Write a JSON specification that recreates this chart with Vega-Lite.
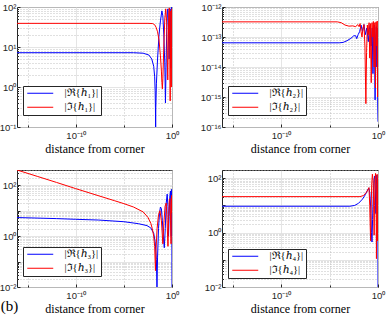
{
"$schema":"https://vega.github.io/schema/vega-lite/v6.json",
"padding":{"left":-2,"top":1,"right":0,"bottom":0},
"columns":2,
"spacing":{"row":43,"column":49},
"bounds":"flush",
"align":"all",
"title":{"text":"(b)","orient":"bottom","anchor":"start","font":"Liberation Serif, DejaVu Serif, serif","fontSize":15,"fontWeight":"normal","color":"#000000","offset":-16,"dx":2},
"datasets":{"d":[
{"p":1,"s":"|ℜ{ℎ₁}|","x":7.94e-17,"y":7.2},{"p":1,"s":"|ℜ{ℎ₁}|","x":1e-4,"y":7.2},{"p":1,"s":"|ℜ{ℎ₁}|","x":1e-3,"y":7.0},{"p":1,"s":"|ℜ{ℎ₁}|","x":3.98e-3,"y":6.3},{"p":1,"s":"|ℜ{ℎ₁}|","x":7.94e-3,"y":5.0},{"p":1,"s":"|ℜ{ℎ₁}|","x":0.0126,"y":3.3},{"p":1,"s":"|ℜ{ℎ₁}|","x":0.0158,"y":1.8},{"p":1,"s":"|ℜ{ℎ₁}|","x":0.0178,"y":0.8},{"p":1,"s":"|ℜ{ℎ₁}|","x":0.0191,"y":0.3},{"p":1,"s":"|ℜ{ℎ₁}|","x":0.02,"y":0.1},{"p":1,"s":"|ℜ{ℎ₁}|","x":0.0209,"y":0.3},{"p":1,"s":"|ℜ{ℎ₁}|","x":0.024,"y":1.2},{"p":1,"s":"|ℜ{ℎ₁}|","x":0.0316,"y":5},{"p":1,"s":"|ℜ{ℎ₁}|","x":0.0447,"y":20},{"p":1,"s":"|ℜ{ℎ₁}|","x":0.0631,"y":45},{"p":1,"s":"|ℜ{ℎ₁}|","x":0.0891,"y":80},{"p":1,"s":"|ℜ{ℎ₁}|","x":0.112,"y":60},{"p":1,"s":"|ℜ{ℎ₁}|","x":0.141,"y":20},{"p":1,"s":"|ℜ{ℎ₁}|","x":0.178,"y":4},{"p":1,"s":"|ℜ{ℎ₁}|","x":0.209,"y":0.4},{"p":1,"s":"|ℜ{ℎ₁}|","x":0.24,"y":3},{"p":1,"s":"|ℜ{ℎ₁}|","x":0.282,"y":25},{"p":1,"s":"|ℜ{ℎ₁}|","x":0.331,"y":80},{"p":1,"s":"|ℜ{ℎ₁}|","x":0.38,"y":90},{"p":1,"s":"|ℜ{ℎ₁}|","x":0.437,"y":30},{"p":1,"s":"|ℜ{ℎ₁}|","x":0.501,"y":5},{"p":1,"s":"|ℜ{ℎ₁}|","x":0.55,"y":20},{"p":1,"s":"|ℜ{ℎ₁}|","x":0.631,"y":90},{"p":1,"s":"|ℜ{ℎ₁}|","x":0.708,"y":40},{"p":1,"s":"|ℜ{ℎ₁}|","x":0.759,"y":3},{"p":1,"s":"|ℜ{ℎ₁}|","x":0.813,"y":30},{"p":1,"s":"|ℜ{ℎ₁}|","x":0.871,"y":95},{"p":1,"s":"|ℜ{ℎ₁}|","x":0.912,"y":60},{"p":1,"s":"|ℜ{ℎ₁}|","x":0.955,"y":100},{"p":1,"s":"|ℜ{ℎ₁}|","x":1,"y":70},
{"p":1,"s":"|ℑ{ℎ₁}|","x":7.94e-17,"y":39},{"p":1,"s":"|ℑ{ℎ₁}|","x":3.16e-3,"y":39},{"p":1,"s":"|ℑ{ℎ₁}|","x":0.01,"y":38.5},{"p":1,"s":"|ℑ{ℎ₁}|","x":0.0158,"y":36},{"p":1,"s":"|ℑ{ℎ₁}|","x":0.0224,"y":31},{"p":1,"s":"|ℑ{ℎ₁}|","x":0.0316,"y":24},{"p":1,"s":"|ℑ{ℎ₁}|","x":0.0447,"y":15},{"p":1,"s":"|ℑ{ℎ₁}|","x":0.0631,"y":6},{"p":1,"s":"|ℑ{ℎ₁}|","x":0.0794,"y":2.5},{"p":1,"s":"|ℑ{ℎ₁}|","x":0.0891,"y":1.3},{"p":1,"s":"|ℑ{ℎ₁}|","x":0.1,"y":0.9},{"p":1,"s":"|ℑ{ℎ₁}|","x":0.112,"y":1.6},{"p":1,"s":"|ℑ{ℎ₁}|","x":0.141,"y":10},{"p":1,"s":"|ℑ{ℎ₁}|","x":0.178,"y":50},{"p":1,"s":"|ℑ{ℎ₁}|","x":0.224,"y":90},{"p":1,"s":"|ℑ{ℎ₁}|","x":0.282,"y":40},{"p":1,"s":"|ℑ{ℎ₁}|","x":0.331,"y":4},{"p":1,"s":"|ℑ{ℎ₁}|","x":0.363,"y":1.5},{"p":1,"s":"|ℑ{ℎ₁}|","x":0.398,"y":8},{"p":1,"s":"|ℑ{ℎ₁}|","x":0.468,"y":70},{"p":1,"s":"|ℑ{ℎ₁}|","x":0.525,"y":95},{"p":1,"s":"|ℑ{ℎ₁}|","x":0.575,"y":20},{"p":1,"s":"|ℑ{ℎ₁}|","x":0.617,"y":2},{"p":1,"s":"|ℑ{ℎ₁}|","x":0.646,"y":0.45},{"p":1,"s":"|ℑ{ℎ₁}|","x":0.692,"y":5},{"p":1,"s":"|ℑ{ℎ₁}|","x":0.759,"y":80},{"p":1,"s":"|ℑ{ℎ₁}|","x":0.813,"y":30},{"p":1,"s":"|ℑ{ℎ₁}|","x":0.851,"y":1},{"p":1,"s":"|ℑ{ℎ₁}|","x":0.891,"y":40},{"p":1,"s":"|ℑ{ℎ₁}|","x":0.933,"y":90},{"p":1,"s":"|ℑ{ℎ₁}|","x":0.966,"y":5},{"p":1,"s":"|ℑ{ℎ₁}|","x":1,"y":50},
{"p":2,"s":"|ℜ{ℎ₂}|","x":7.94e-17,"y":6.4e-14},{"p":2,"s":"|ℜ{ℎ₂}|","x":1e-4,"y":6.4e-14},{"p":2,"s":"|ℜ{ℎ₂}|","x":2.51e-4,"y":6.6e-14},{"p":2,"s":"|ℜ{ℎ₂}|","x":6.31e-4,"y":7.5e-14},{"p":2,"s":"|ℜ{ℎ₂}|","x":1.58e-3,"y":9e-14},{"p":2,"s":"|ℜ{ℎ₂}|","x":3.16e-3,"y":1.1e-13},{"p":2,"s":"|ℜ{ℎ₂}|","x":5.01e-3,"y":1.1e-13},{"p":2,"s":"|ℜ{ℎ₂}|","x":6.31e-3,"y":8.8e-14},{"p":2,"s":"|ℜ{ℎ₂}|","x":8.91e-3,"y":1.2e-13},{"p":2,"s":"|ℜ{ℎ₂}|","x":0.0126,"y":1.5e-13},{"p":2,"s":"|ℜ{ℎ₂}|","x":0.0178,"y":2.5e-13},{"p":2,"s":"|ℜ{ℎ₂}|","x":0.0251,"y":1.5e-13},{"p":2,"s":"|ℜ{ℎ₂}|","x":0.0355,"y":2.6e-13},{"p":2,"s":"|ℜ{ℎ₂}|","x":0.0501,"y":1.2e-13},{"p":2,"s":"|ℜ{ℎ₂}|","x":0.0708,"y":2e-13},{"p":2,"s":"|ℜ{ℎ₂}|","x":0.1,"y":7e-14},{"p":2,"s":"|ℜ{ℎ₂}|","x":0.126,"y":1.8e-13},{"p":2,"s":"|ℜ{ℎ₂}|","x":0.158,"y":2.5e-13},{"p":2,"s":"|ℜ{ℎ₂}|","x":0.2,"y":5e-14},{"p":2,"s":"|ℜ{ℎ₂}|","x":0.251,"y":2e-13},{"p":2,"s":"|ℜ{ℎ₂}|","x":0.302,"y":6e-15},{"p":2,"s":"|ℜ{ℎ₂}|","x":0.355,"y":1.5e-13},{"p":2,"s":"|ℜ{ℎ₂}|","x":0.417,"y":2.5e-13},{"p":2,"s":"|ℜ{ℎ₂}|","x":0.501,"y":8e-16},{"p":2,"s":"|ℜ{ℎ₂}|","x":0.575,"y":1e-13},{"p":2,"s":"|ℜ{ℎ₂}|","x":0.661,"y":2.2e-13},{"p":2,"s":"|ℜ{ℎ₂}|","x":0.759,"y":1e-14},{"p":2,"s":"|ℜ{ℎ₂}|","x":0.851,"y":2e-13},{"p":2,"s":"|ℜ{ℎ₂}|","x":0.933,"y":5e-16},{"p":2,"s":"|ℜ{ℎ₂}|","x":1,"y":1.5e-16},
{"p":2,"s":"|ℑ{ℎ₂}|","x":7.94e-17,"y":3.2e-13},{"p":2,"s":"|ℑ{ℎ₂}|","x":6.31e-5,"y":3.2e-13},{"p":2,"s":"|ℑ{ℎ₂}|","x":1.58e-4,"y":3.0e-13},{"p":2,"s":"|ℑ{ℎ₂}|","x":3.98e-4,"y":2.5e-13},{"p":2,"s":"|ℑ{ℎ₂}|","x":1e-3,"y":2.3e-13},{"p":2,"s":"|ℑ{ℎ₂}|","x":2.51e-3,"y":2.35e-13},{"p":2,"s":"|ℑ{ℎ₂}|","x":5.01e-3,"y":2.2e-13},{"p":2,"s":"|ℑ{ℎ₂}|","x":7.94e-3,"y":2.6e-13},{"p":2,"s":"|ℑ{ℎ₂}|","x":0.0112,"y":2.2e-13},{"p":2,"s":"|ℑ{ℎ₂}|","x":0.0141,"y":2.8e-13},{"p":2,"s":"|ℑ{ℎ₂}|","x":0.0178,"y":1.5e-13},{"p":2,"s":"|ℑ{ℎ₂}|","x":0.0224,"y":1.0e-13},{"p":2,"s":"|ℑ{ℎ₂}|","x":0.0282,"y":2.0e-13},{"p":2,"s":"|ℑ{ℎ₂}|","x":0.0355,"y":2.6e-13},{"p":2,"s":"|ℑ{ℎ₂}|","x":0.0447,"y":5e-14},{"p":2,"s":"|ℑ{ℎ₂}|","x":0.0562,"y":6e-16},{"p":2,"s":"|ℑ{ℎ₂}|","x":0.0661,"y":3e-14},{"p":2,"s":"|ℑ{ℎ₂}|","x":0.0794,"y":2.5e-13},{"p":2,"s":"|ℑ{ℎ₂}|","x":0.1,"y":1.2e-13},{"p":2,"s":"|ℑ{ℎ₂}|","x":0.12,"y":3e-13},{"p":2,"s":"|ℑ{ℎ₂}|","x":0.141,"y":2e-14},{"p":2,"s":"|ℑ{ℎ₂}|","x":0.166,"y":2.8e-13},{"p":2,"s":"|ℑ{ℎ₂}|","x":0.2,"y":3e-15},{"p":2,"s":"|ℑ{ℎ₂}|","x":0.24,"y":3e-13},{"p":2,"s":"|ℑ{ℎ₂}|","x":0.282,"y":1e-13},{"p":2,"s":"|ℑ{ℎ₂}|","x":0.331,"y":3.3e-13},{"p":2,"s":"|ℑ{ℎ₂}|","x":0.398,"y":1e-14},{"p":2,"s":"|ℑ{ℎ₂}|","x":0.468,"y":3e-13},{"p":2,"s":"|ℑ{ℎ₂}|","x":0.55,"y":2e-15},{"p":2,"s":"|ℑ{ℎ₂}|","x":0.631,"y":3.2e-13},{"p":2,"s":"|ℑ{ℎ₂}|","x":0.724,"y":5e-14},{"p":2,"s":"|ℑ{ℎ₂}|","x":0.832,"y":3.4e-13},{"p":2,"s":"|ℑ{ℎ₂}|","x":0.912,"y":1e-15},{"p":2,"s":"|ℑ{ℎ₂}|","x":1,"y":2e-13},
{"p":3,"s":"|ℜ{ℎ₃}|","x":7.94e-17,"y":5.4},{"p":3,"s":"|ℜ{ℎ₃}|","x":1e-12,"y":4.9},{"p":3,"s":"|ℜ{ℎ₃}|","x":1e-10,"y":4.6},{"p":3,"s":"|ℜ{ℎ₃}|","x":2.51e-8,"y":4.3},{"p":3,"s":"|ℜ{ℎ₃}|","x":1e-5,"y":3.7},{"p":3,"s":"|ℜ{ℎ₃}|","x":3.16e-4,"y":3.1},{"p":3,"s":"|ℜ{ℎ₃}|","x":2.51e-3,"y":2.6},{"p":3,"s":"|ℜ{ℎ₃}|","x":6.31e-3,"y":2.1},{"p":3,"s":"|ℜ{ℎ₃}|","x":0.0126,"y":1.3},{"p":3,"s":"|ℜ{ℎ₃}|","x":0.0178,"y":0.6},{"p":3,"s":"|ℜ{ℎ₃}|","x":0.024,"y":0.12},{"p":3,"s":"|ℜ{ℎ₃}|","x":0.0275,"y":0.01},{"p":3,"s":"|ℜ{ℎ₃}|","x":0.0316,"y":0.15},{"p":3,"s":"|ℜ{ℎ₃}|","x":0.0398,"y":2},{"p":3,"s":"|ℜ{ℎ₃}|","x":0.0501,"y":8},{"p":3,"s":"|ℜ{ℎ₃}|","x":0.0631,"y":14},{"p":3,"s":"|ℜ{ℎ₃}|","x":0.0794,"y":12},{"p":3,"s":"|ℜ{ℎ₃}|","x":0.1,"y":4},{"p":3,"s":"|ℜ{ℎ₃}|","x":0.126,"y":1},{"p":3,"s":"|ℜ{ℎ₃}|","x":0.158,"y":0.35},{"p":3,"s":"|ℜ{ℎ₃}|","x":0.2,"y":2},{"p":3,"s":"|ℜ{ℎ₃}|","x":0.251,"y":20},{"p":3,"s":"|ℜ{ℎ₃}|","x":0.316,"y":45},{"p":3,"s":"|ℜ{ℎ₃}|","x":0.38,"y":15},{"p":3,"s":"|ℜ{ℎ₃}|","x":0.437,"y":1},{"p":3,"s":"|ℜ{ℎ₃}|","x":0.501,"y":6},{"p":3,"s":"|ℜ{ℎ₃}|","x":0.603,"y":40},{"p":3,"s":"|ℜ{ℎ₃}|","x":0.692,"y":60},{"p":3,"s":"|ℜ{ℎ₃}|","x":0.759,"y":10},{"p":3,"s":"|ℜ{ℎ₃}|","x":0.832,"y":1},{"p":3,"s":"|ℜ{ℎ₃}|","x":0.891,"y":30},{"p":3,"s":"|ℜ{ℎ₃}|","x":0.933,"y":70},{"p":3,"s":"|ℜ{ℎ₃}|","x":0.977,"y":0.3},{"p":3,"s":"|ℜ{ℎ₃}|","x":1,"y":0.01},
{"p":3,"s":"|ℑ{ℎ₃}|","x":7.94e-17,"y":400},{"p":3,"s":"|ℑ{ℎ₃}|","x":1e-14,"y":225},{"p":3,"s":"|ℑ{ℎ₃}|","x":1e-12,"y":130},{"p":3,"s":"|ℑ{ℎ₃}|","x":1e-10,"y":74},{"p":3,"s":"|ℑ{ℎ₃}|","x":1e-8,"y":43},{"p":3,"s":"|ℑ{ℎ₃}|","x":1e-6,"y":25},{"p":3,"s":"|ℑ{ℎ₃}|","x":1e-5,"y":19},{"p":3,"s":"|ℑ{ℎ₃}|","x":1e-4,"y":14},{"p":3,"s":"|ℑ{ℎ₃}|","x":1e-3,"y":9},{"p":3,"s":"|ℑ{ℎ₃}|","x":3.16e-3,"y":5.5},{"p":3,"s":"|ℑ{ℎ₃}|","x":6.31e-3,"y":3.2},{"p":3,"s":"|ℑ{ℎ₃}|","x":8.91e-3,"y":2},{"p":3,"s":"|ℑ{ℎ₃}|","x":0.0126,"y":1.0},{"p":3,"s":"|ℑ{ℎ₃}|","x":0.0158,"y":0.4},{"p":3,"s":"|ℑ{ℎ₃}|","x":0.0191,"y":0.044},{"p":3,"s":"|ℑ{ℎ₃}|","x":0.0219,"y":0.3},{"p":3,"s":"|ℑ{ℎ₃}|","x":0.0282,"y":2},{"p":3,"s":"|ℑ{ℎ₃}|","x":0.0398,"y":7},{"p":3,"s":"|ℑ{ℎ₃}|","x":0.0562,"y":10},{"p":3,"s":"|ℑ{ℎ₃}|","x":0.0794,"y":4},{"p":3,"s":"|ℑ{ℎ₃}|","x":0.112,"y":0.5},{"p":3,"s":"|ℑ{ℎ₃}|","x":0.141,"y":3},{"p":3,"s":"|ℑ{ℎ₃}|","x":0.191,"y":15},{"p":3,"s":"|ℑ{ℎ₃}|","x":0.251,"y":20},{"p":3,"s":"|ℑ{ℎ₃}|","x":0.316,"y":3},{"p":3,"s":"|ℑ{ℎ₃}|","x":0.38,"y":0.4},{"p":3,"s":"|ℑ{ℎ₃}|","x":0.447,"y":5},{"p":3,"s":"|ℑ{ℎ₃}|","x":0.525,"y":25},{"p":3,"s":"|ℑ{ℎ₃}|","x":0.631,"y":30},{"p":3,"s":"|ℑ{ℎ₃}|","x":0.708,"y":4},{"p":3,"s":"|ℑ{ℎ₃}|","x":0.794,"y":0.5},{"p":3,"s":"|ℑ{ℎ₃}|","x":0.851,"y":15},{"p":3,"s":"|ℑ{ℎ₃}|","x":0.912,"y":40},{"p":3,"s":"|ℑ{ℎ₃}|","x":0.955,"y":8},{"p":3,"s":"|ℑ{ℎ₃}|","x":1,"y":25},
{"p":4,"s":"|ℜ{ℎ₄}|","x":7.94e-17,"y":9.3},{"p":4,"s":"|ℜ{ℎ₄}|","x":1.26e-3,"y":9.3},{"p":4,"s":"|ℜ{ℎ₄}|","x":3.98e-3,"y":10},{"p":4,"s":"|ℜ{ℎ₄}|","x":0.01,"y":12},{"p":4,"s":"|ℜ{ℎ₄}|","x":0.0251,"y":17},{"p":4,"s":"|ℜ{ℎ₄}|","x":0.0501,"y":25},{"p":4,"s":"|ℜ{ℎ₄}|","x":0.0794,"y":35},{"p":4,"s":"|ℜ{ℎ₄}|","x":0.112,"y":44},{"p":4,"s":"|ℜ{ℎ₄}|","x":0.141,"y":30},{"p":4,"s":"|ℜ{ℎ₄}|","x":0.178,"y":8},{"p":4,"s":"|ℜ{ℎ₄}|","x":0.209,"y":1},{"p":4,"s":"|ℜ{ℎ₄}|","x":0.24,"y":0.45},{"p":4,"s":"|ℜ{ℎ₄}|","x":0.275,"y":3},{"p":4,"s":"|ℜ{ℎ₄}|","x":0.331,"y":30},{"p":4,"s":"|ℜ{ℎ₄}|","x":0.398,"y":90},{"p":4,"s":"|ℜ{ℎ₄}|","x":0.457,"y":120},{"p":4,"s":"|ℜ{ℎ₄}|","x":0.525,"y":40},{"p":4,"s":"|ℜ{ℎ₄}|","x":0.603,"y":5},{"p":4,"s":"|ℜ{ℎ₄}|","x":0.676,"y":60},{"p":4,"s":"|ℜ{ℎ₄}|","x":0.759,"y":130},{"p":4,"s":"|ℜ{ℎ₄}|","x":0.832,"y":20},{"p":4,"s":"|ℜ{ℎ₄}|","x":0.891,"y":1},{"p":4,"s":"|ℜ{ℎ₄}|","x":0.933,"y":60},{"p":4,"s":"|ℜ{ℎ₄}|","x":0.977,"y":0.5},{"p":4,"s":"|ℜ{ℎ₄}|","x":1,"y":0.01},
{"p":4,"s":"|ℑ{ℎ₄}|","x":7.94e-17,"y":21},{"p":4,"s":"|ℑ{ℎ₄}|","x":0.0138,"y":21},{"p":4,"s":"|ℑ{ℎ₄}|","x":0.0316,"y":23},{"p":4,"s":"|ℑ{ℎ₄}|","x":0.0631,"y":30},{"p":4,"s":"|ℑ{ℎ₄}|","x":0.1,"y":40},{"p":4,"s":"|ℑ{ℎ₄}|","x":0.117,"y":45},{"p":4,"s":"|ℑ{ℎ₄}|","x":0.141,"y":10},{"p":4,"s":"|ℑ{ℎ₄}|","x":0.158,"y":1.5},{"p":4,"s":"|ℑ{ℎ₄}|","x":0.174,"y":0.5},{"p":4,"s":"|ℑ{ℎ₄}|","x":0.191,"y":5},{"p":4,"s":"|ℑ{ℎ₄}|","x":0.224,"y":60},{"p":4,"s":"|ℑ{ℎ₄}|","x":0.263,"y":140},{"p":4,"s":"|ℑ{ℎ₄}|","x":0.316,"y":80},{"p":4,"s":"|ℑ{ℎ₄}|","x":0.363,"y":8},{"p":4,"s":"|ℑ{ℎ₄}|","x":0.398,"y":0.8},{"p":4,"s":"|ℑ{ℎ₄}|","x":0.437,"y":10},{"p":4,"s":"|ℑ{ℎ₄}|","x":0.501,"y":100},{"p":4,"s":"|ℑ{ℎ₄}|","x":0.562,"y":150},{"p":4,"s":"|ℑ{ℎ₄}|","x":0.631,"y":30},{"p":4,"s":"|ℑ{ℎ₄}|","x":0.692,"y":0.11},{"p":4,"s":"|ℑ{ℎ₄}|","x":0.759,"y":20},{"p":4,"s":"|ℑ{ℎ₄}|","x":0.813,"y":140},{"p":4,"s":"|ℑ{ℎ₄}|","x":0.871,"y":50},{"p":4,"s":"|ℑ{ℎ₄}|","x":0.912,"y":0.5},{"p":4,"s":"|ℑ{ℎ₄}|","x":0.955,"y":100},{"p":4,"s":"|ℑ{ℎ₄}|","x":1,"y":30}
]},
"concat":[
{"width":155,"height":120,"data":{"name":"d"},"transform":[{"filter":"datum.p == 1"}],
 "mark":{"type":"line","strokeWidth":1,"clip":true},
 "encoding":{
  "x":{"field":"x","type":"quantitative","scale":{"type":"log","domain":[7.94e-17,1],"nice":false},
   "axis":{"values":[1e-15,1e-10,1e-5,1],"title":"distance from corner","labelFlush":false,"labelOverlap":false,"domain":false,"labelPadding":6,
    "labelExpr":"abs(round(log(datum.value)/LN10)) % 10 == 0 ? ('10' + (round(log(datum.value)/LN10) < 0 ? '⁻' : '') + (abs(round(log(datum.value)/LN10)) >= 10 ? ['⁰','¹','²','³','⁴','⁵','⁶','⁷','⁸','⁹'][floor(abs(round(log(datum.value)/LN10))/10)] : '') + ['⁰','¹','²','³','⁴','⁵','⁶','⁷','⁸','⁹'][abs(round(log(datum.value)/LN10)) % 10]) : ''",
    "gridDash":{"condition":{"test":"abs(round(log(datum.value)/LN10)) % 10 == 0","value":[]},"value":[1,2]},
    "gridColor":{"condition":{"test":"abs(round(log(datum.value)/LN10)) % 10 == 0","value":"#dedede"},"value":"#b0b0b0"},
    "tickSize":{"condition":{"test":"abs(round(log(datum.value)/LN10)) % 10 == 0","value":-3},"value":-2}}},
  "y":{"field":"y","type":"quantitative","scale":{"type":"log","domain":[0.1,100],"nice":false},
   "axis":{"tickCount":30,"title":null,"labelFlush":false,"labelOverlap":false,"domain":false,"labelPadding":4,
    "labelExpr":"abs(log(datum.value)/LN10 - round(log(datum.value)/LN10)) < 0.001 ? ('10' + (round(log(datum.value)/LN10) < 0 ? '⁻' : '') + (abs(round(log(datum.value)/LN10)) >= 10 ? ['⁰','¹','²','³','⁴','⁵','⁶','⁷','⁸','⁹'][floor(abs(round(log(datum.value)/LN10))/10)] : '') + ['⁰','¹','²','³','⁴','⁵','⁶','⁷','⁸','⁹'][abs(round(log(datum.value)/LN10)) % 10]) : ''",
    "gridDash":{"condition":{"test":"abs(log(datum.value)/LN10 - round(log(datum.value)/LN10)) < 0.001","value":[]},"value":[1,2]},
    "gridColor":{"condition":{"test":"abs(log(datum.value)/LN10 - round(log(datum.value)/LN10)) < 0.001","value":"#dedede"},"value":"#b0b0b0"},
    "tickSize":{"condition":{"test":"abs(log(datum.value)/LN10 - round(log(datum.value)/LN10)) < 0.001","value":-3},"value":-1.5}}},
  "stroke":{"field":"s","type":"nominal","scale":{"domain":["|ℜ{ℎ₁}|","|ℑ{ℎ₁}|"],"range":["#0000ff","#ff0000"]},"legend":{"title":null,"orient":"none","legendX":6,"legendY":79}}
 }},
{"width":156,"height":120,"data":{"name":"d"},"transform":[{"filter":"datum.p == 2"}],
 "mark":{"type":"line","strokeWidth":1,"clip":true},
 "encoding":{
  "x":{"field":"x","type":"quantitative","scale":{"type":"log","domain":[7.94e-17,1],"nice":false},
   "axis":{"values":[1e-15,1e-10,1e-5,1],"title":"distance from corner","labelFlush":false,"labelOverlap":false,"domain":false,"labelPadding":6,
    "labelExpr":"abs(round(log(datum.value)/LN10)) % 10 == 0 ? ('10' + (round(log(datum.value)/LN10) < 0 ? '⁻' : '') + (abs(round(log(datum.value)/LN10)) >= 10 ? ['⁰','¹','²','³','⁴','⁵','⁶','⁷','⁸','⁹'][floor(abs(round(log(datum.value)/LN10))/10)] : '') + ['⁰','¹','²','³','⁴','⁵','⁶','⁷','⁸','⁹'][abs(round(log(datum.value)/LN10)) % 10]) : ''",
    "gridDash":{"condition":{"test":"abs(round(log(datum.value)/LN10)) % 10 == 0","value":[]},"value":[1,2]},
    "gridColor":{"condition":{"test":"abs(round(log(datum.value)/LN10)) % 10 == 0","value":"#dedede"},"value":"#b0b0b0"},
    "tickSize":{"condition":{"test":"abs(round(log(datum.value)/LN10)) % 10 == 0","value":-3},"value":-2}}},
  "y":{"field":"y","type":"quantitative","scale":{"type":"log","domain":[1e-16,1e-12],"nice":false},
   "axis":{"tickCount":30,"title":null,"labelFlush":false,"labelOverlap":false,"domain":false,"labelPadding":4,
    "labelExpr":"abs(log(datum.value)/LN10 - round(log(datum.value)/LN10)) < 0.001 ? ('10' + (round(log(datum.value)/LN10) < 0 ? '⁻' : '') + (abs(round(log(datum.value)/LN10)) >= 10 ? ['⁰','¹','²','³','⁴','⁵','⁶','⁷','⁸','⁹'][floor(abs(round(log(datum.value)/LN10))/10)] : '') + ['⁰','¹','²','³','⁴','⁵','⁶','⁷','⁸','⁹'][abs(round(log(datum.value)/LN10)) % 10]) : ''",
    "gridDash":{"condition":{"test":"abs(log(datum.value)/LN10 - round(log(datum.value)/LN10)) < 0.001","value":[]},"value":[1,2]},
    "gridColor":{"condition":{"test":"abs(log(datum.value)/LN10 - round(log(datum.value)/LN10)) < 0.001","value":"#dedede"},"value":"#b0b0b0"},
    "tickSize":{"condition":{"test":"abs(log(datum.value)/LN10 - round(log(datum.value)/LN10)) < 0.001","value":-3},"value":-1.5}}},
  "stroke":{"field":"s","type":"nominal","scale":{"domain":["|ℜ{ℎ₂}|","|ℑ{ℎ₂}|"],"range":["#0000ff","#ff0000"]},"legend":{"title":null,"orient":"none","legendX":6,"legendY":79}}
 }},
{"width":155,"height":117,"data":{"name":"d"},"transform":[{"filter":"datum.p == 3"}],
 "mark":{"type":"line","strokeWidth":1,"clip":true},
 "encoding":{
  "x":{"field":"x","type":"quantitative","scale":{"type":"log","domain":[7.94e-17,1],"nice":false},
   "axis":{"values":[1e-15,1e-10,1e-5,1],"title":"distance from corner","labelFlush":false,"labelOverlap":false,"domain":false,"labelPadding":6,
    "labelExpr":"abs(round(log(datum.value)/LN10)) % 10 == 0 ? ('10' + (round(log(datum.value)/LN10) < 0 ? '⁻' : '') + (abs(round(log(datum.value)/LN10)) >= 10 ? ['⁰','¹','²','³','⁴','⁵','⁶','⁷','⁸','⁹'][floor(abs(round(log(datum.value)/LN10))/10)] : '') + ['⁰','¹','²','³','⁴','⁵','⁶','⁷','⁸','⁹'][abs(round(log(datum.value)/LN10)) % 10]) : ''",
    "gridDash":{"condition":{"test":"abs(round(log(datum.value)/LN10)) % 10 == 0","value":[]},"value":[1,2]},
    "gridColor":{"condition":{"test":"abs(round(log(datum.value)/LN10)) % 10 == 0","value":"#dedede"},"value":"#b0b0b0"},
    "tickSize":{"condition":{"test":"abs(round(log(datum.value)/LN10)) % 10 == 0","value":-3},"value":-2}}},
  "y":{"field":"y","type":"quantitative","scale":{"type":"log","domain":[0.01,400],"nice":false},
   "axis":{"tickCount":30,"title":null,"labelFlush":false,"labelOverlap":false,"domain":false,"labelPadding":4,
    "labelExpr":"abs(log(datum.value)/LN10 - round(log(datum.value)/LN10)) < 0.001 && abs(round(log(datum.value)/LN10)) % 2 == 0 ? ('10' + (round(log(datum.value)/LN10) < 0 ? '⁻' : '') + (abs(round(log(datum.value)/LN10)) >= 10 ? ['⁰','¹','²','³','⁴','⁵','⁶','⁷','⁸','⁹'][floor(abs(round(log(datum.value)/LN10))/10)] : '') + ['⁰','¹','²','³','⁴','⁵','⁶','⁷','⁸','⁹'][abs(round(log(datum.value)/LN10)) % 10]) : ''",
    "gridDash":{"condition":{"test":"abs(log(datum.value)/LN10 - round(log(datum.value)/LN10)) < 0.001","value":[]},"value":[1,2]},
    "gridColor":{"condition":{"test":"abs(log(datum.value)/LN10 - round(log(datum.value)/LN10)) < 0.001","value":"#dedede"},"value":"#b0b0b0"},
    "tickSize":{"condition":{"test":"abs(log(datum.value)/LN10 - round(log(datum.value)/LN10)) < 0.001","value":-3},"value":-1.5}}},
  "stroke":{"field":"s","type":"nominal","scale":{"domain":["|ℜ{ℎ₃}|","|ℑ{ℎ₃}|"],"range":["#0000ff","#ff0000"]},"legend":{"title":null,"orient":"none","legendX":6,"legendY":77}}
 }},
{"width":156,"height":117,"data":{"name":"d"},"transform":[{"filter":"datum.p == 4"}],
 "mark":{"type":"line","strokeWidth":1,"clip":true},
 "encoding":{
  "x":{"field":"x","type":"quantitative","scale":{"type":"log","domain":[7.94e-17,1],"nice":false},
   "axis":{"values":[1e-15,1e-10,1e-5,1],"title":"distance from corner","labelFlush":false,"labelOverlap":false,"domain":false,"labelPadding":6,
    "labelExpr":"abs(round(log(datum.value)/LN10)) % 10 == 0 ? ('10' + (round(log(datum.value)/LN10) < 0 ? '⁻' : '') + (abs(round(log(datum.value)/LN10)) >= 10 ? ['⁰','¹','²','³','⁴','⁵','⁶','⁷','⁸','⁹'][floor(abs(round(log(datum.value)/LN10))/10)] : '') + ['⁰','¹','²','³','⁴','⁵','⁶','⁷','⁸','⁹'][abs(round(log(datum.value)/LN10)) % 10]) : ''",
    "gridDash":{"condition":{"test":"abs(round(log(datum.value)/LN10)) % 10 == 0","value":[]},"value":[1,2]},
    "gridColor":{"condition":{"test":"abs(round(log(datum.value)/LN10)) % 10 == 0","value":"#dedede"},"value":"#b0b0b0"},
    "tickSize":{"condition":{"test":"abs(round(log(datum.value)/LN10)) % 10 == 0","value":-3},"value":-2}}},
  "y":{"field":"y","type":"quantitative","scale":{"type":"log","domain":[0.01,200],"nice":false},
   "axis":{"tickCount":30,"title":null,"labelFlush":false,"labelOverlap":false,"domain":false,"labelPadding":4,
    "labelExpr":"abs(log(datum.value)/LN10 - round(log(datum.value)/LN10)) < 0.001 && abs(round(log(datum.value)/LN10)) % 2 == 0 ? ('10' + (round(log(datum.value)/LN10) < 0 ? '⁻' : '') + (abs(round(log(datum.value)/LN10)) >= 10 ? ['⁰','¹','²','³','⁴','⁵','⁶','⁷','⁸','⁹'][floor(abs(round(log(datum.value)/LN10))/10)] : '') + ['⁰','¹','²','³','⁴','⁵','⁶','⁷','⁸','⁹'][abs(round(log(datum.value)/LN10)) % 10]) : ''",
    "gridDash":{"condition":{"test":"abs(log(datum.value)/LN10 - round(log(datum.value)/LN10)) < 0.001","value":[]},"value":[1,2]},
    "gridColor":{"condition":{"test":"abs(log(datum.value)/LN10 - round(log(datum.value)/LN10)) < 0.001","value":"#dedede"},"value":"#b0b0b0"},
    "tickSize":{"condition":{"test":"abs(log(datum.value)/LN10 - round(log(datum.value)/LN10)) < 0.001","value":-3},"value":-1.5}}},
  "stroke":{"field":"s","type":"nominal","scale":{"domain":["|ℜ{ℎ₄}|","|ℑ{ℎ₄}|"],"range":["#0000ff","#ff0000"]},"legend":{"title":null,"orient":"none","legendX":6,"legendY":79}}
 }}
],
"resolve":{"scale":{"x":"independent","y":"independent","stroke":"independent"}},
"config":{
 "view":{"stroke":"#262626","strokeWidth":1},
 "axis":{"labelFont":"Liberation Sans, Arial, sans-serif","labelFontSize":9.5,"labelColor":"#262626","tickColor":"#262626","titleFont":"Liberation Serif, DejaVu Serif, serif","titleFontSize":12,"titleFontWeight":"normal","titleColor":"#000000","titlePadding":3,"gridWidth":0.8},
 "legend":{"fillColor":"#ffffff","strokeColor":"#262626","padding":2,"symbolType":"M-3,0H3","symbolSize":75,"symbolStrokeWidth":1,"symbolOffset":10,"labelFont":"Liberation Serif, DejaVu Serif, serif","labelFontSize":10.5,"labelColor":"#000000","rowPadding":3,"labelOffset":19}
}
}
